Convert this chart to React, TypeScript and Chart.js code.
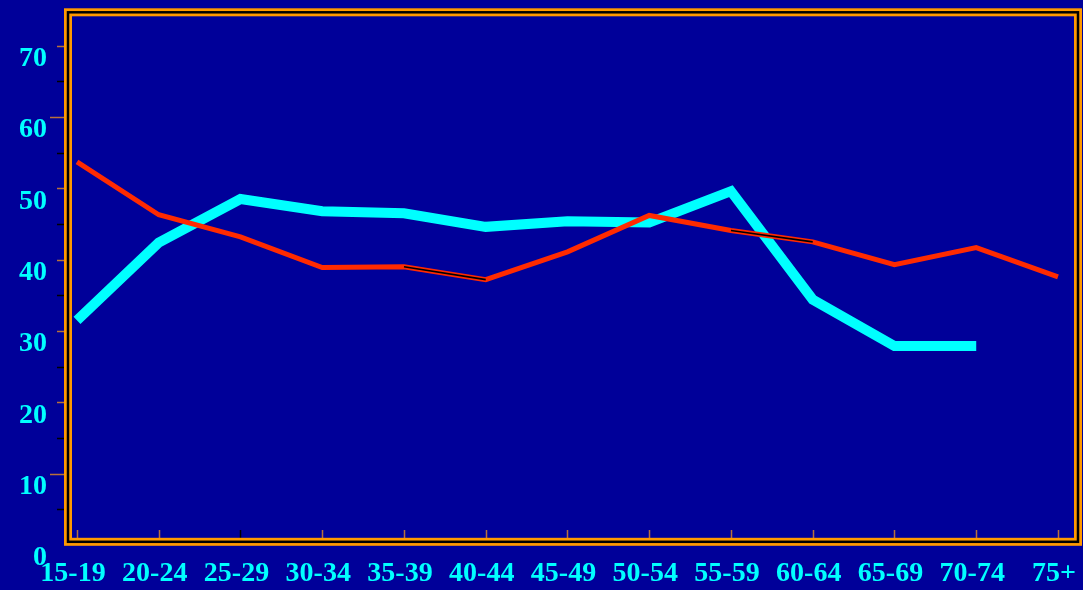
import React, { useEffect, useRef } from "react";
import { Chart, registerables } from "chart.js";

Chart.register(...registerables);

const categories = ["15-19", "20-24", "25-29", "30-34", "35-39", "40-44", "45-49", "50-54", "55-59", "60-64", "65-69", "70-74", "75+"];
const cyanValues: (number | null)[] = [31.5, 42.4, 48.5, 46.8, 46.5, 44.6, 45.4, 45.2, 49.6, 34.4, 27.9, 27.9, null];
const redValues: number[] = [53.7, 46.3, 43.2, 38.9, 39.0, 37.2, 41.1, 46.2, 44.1, 42.5, 39.3, 41.7, 37.6];
const yTickValues = [0, 10, 20, 30, 40, 50, 60, 70];
const yMinorTicks = [5, 15, 25, 35, 45, 55, 65];
const darkCoreSegments = [4, 8];

const BG = "#000099";
const CYAN = "#00ffff";
const RED = "#ff2a00";
const ORANGE = "#ff9900";
const TICK_BROWN = "#b8703a";

const toPoints = (vals: (number | null)[]) =>
  vals.map((v, i) => (v === null ? null : { x: i, y: v })).filter((p) => p !== null) as { x: number; y: number }[];

const framePlugin = {
  id: "framePlugin",
  beforeDraw(chart: any) {
    const ctx = chart.ctx;
    ctx.save();
    ctx.fillStyle = BG;
    ctx.fillRect(0, 0, chart.width, chart.height);
    ctx.restore();
  },
  afterDraw(chart: any) {
    const ctx = chart.ctx;
    const a = chart.chartArea;
    const xs = chart.scales.x;
    const ys = chart.scales.y;
    ctx.save();
    ctx.lineWidth = 1.5;
    yTickValues.forEach((v) => {
      if (v === 0) return;
      const y = Math.round(ys.getPixelForValue(v)) + 0.5;
      const len = v === 10 || v === 60 ? 13 : 6;
      ctx.strokeStyle = TICK_BROWN;
      ctx.beginPath();
      ctx.moveTo(a.left - 5 - len, y);
      ctx.lineTo(a.left - 4, y);
      ctx.stroke();
    });
    yMinorTicks.forEach((v) => {
      const y = Math.round(ys.getPixelForValue(v)) + 0.5;
      ctx.strokeStyle = "#000000";
      ctx.beginPath();
      ctx.moveTo(a.left - 11, y);
      ctx.lineTo(a.left - 4, y);
      ctx.stroke();
    });
    categories.forEach((_, i) => {
      const x = Math.round(xs.getPixelForValue(i)) + 0.5;
      ctx.strokeStyle = i === 2 ? "#000000" : TICK_BROWN;
      ctx.beginPath();
      ctx.moveTo(x, a.bottom - 15);
      ctx.lineTo(x, a.bottom - 6);
      ctx.stroke();
    });
    const l = a.left;
    const r = a.right;
    const t = a.top + 2.3;
    const b = a.bottom - 3.2;
    ctx.strokeStyle = ORANGE;
    ctx.lineWidth = 8;
    ctx.strokeRect(l, t, r - l, b - t);
    ctx.strokeStyle = "#000000";
    ctx.lineWidth = 2.5;
    ctx.strokeRect(l, t, r - l, b - t);
    ctx.restore();
  },
};

const FONT = { family: "'Liberation Serif', 'Times New Roman', serif", size: 28, weight: "bold" };

export default function App() {
  const ref = useRef<HTMLCanvasElement | null>(null);
  useEffect(() => {
    if (!ref.current) return;
    const chart = new Chart(ref.current, {
      type: "line",
      data: {
        datasets: [
          {
            label: "core",
            data: toPoints(redValues),
            borderColor: "transparent",
            borderWidth: 1.6,
            pointRadius: 0,
            order: 0,
            segment: {
              borderColor: (c: any) => (darkCoreSegments.includes(c.p0DataIndex) ? "#000000" : "transparent"),
            },
          },
          {
            label: "red",
            data: toPoints(redValues),
            borderColor: RED,
            borderWidth: 5,
            pointRadius: 0,
            borderJoinStyle: "miter",
            order: 1,
          },
          {
            label: "cyan",
            data: toPoints(cyanValues),
            borderColor: CYAN,
            borderWidth: 10,
            pointRadius: 0,
            borderJoinStyle: "miter",
            order: 2,
          },
        ],
      },
      options: {
        responsive: false,
        animation: false,
        layout: { padding: { top: 10, right: 5, left: 0, bottom: 0 } },
        plugins: { legend: { display: false }, tooltip: { enabled: false } },
        scales: {
          x: {
            type: "linear",
            min: -0.11,
            max: 12.245,
            grid: { display: false, drawTicks: false },
            border: { display: false },
            afterBuildTicks: (s: any) => {
              s.ticks = categories.map((_, i) => ({ value: i }));
            },
            afterFit: (s: any) => {
              s.height = 45;
              s.paddingLeft = 0;
              s.paddingRight = 0;
            },
            ticks: {
              autoSkip: false,
              maxRotation: 0,
              padding: 12,
              labelOffset: -4,
              color: CYAN,
              font: FONT,
              callback: (v: any) => categories[v] ?? "",
            },
          },
          y: {
            type: "linear",
            min: 0,
            max: 75,
            grid: { display: false, drawTicks: false },
            border: { display: false },
            afterBuildTicks: (s: any) => {
              s.ticks = yTickValues.map((v) => ({ value: v }));
            },
            afterFit: (s: any) => {
              s.width = 68;
              s.paddingTop = 0;
              s.paddingBottom = 0;
            },
            ticks: {
              padding: 21,
              labelOffset: 13,
              color: CYAN,
              font: FONT,
              callback: (v: any) => String(v),
            },
          },
        },
      },
      plugins: [framePlugin],
    } as any);
    return () => chart.destroy();
  }, []);
  return (
    <div style={{ position: "absolute", left: 0, top: 0, width: 1083, height: 590, background: BG }}>
      <canvas ref={ref} width={1083} height={590} style={{ display: "block", width: 1083, height: 590 }} />
    </div>
  );
}
